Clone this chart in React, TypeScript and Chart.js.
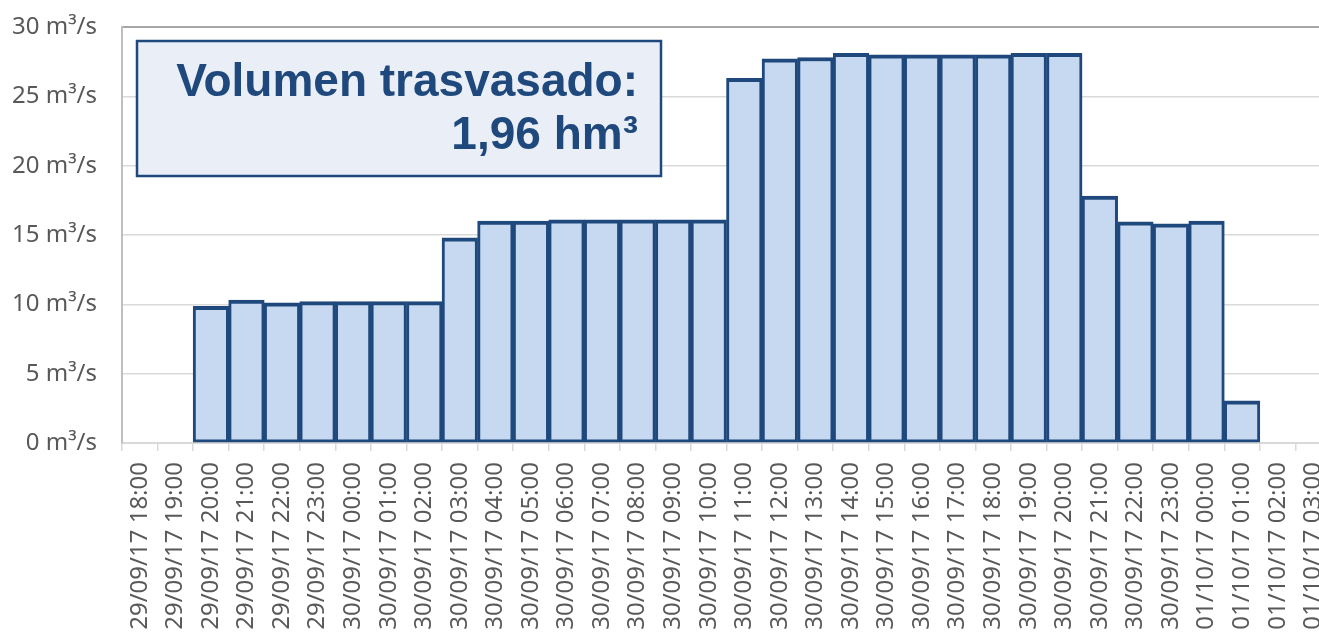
import React, { useEffect, useRef } from "react";
import { Chart, registerables } from "chart.js";

Chart.register(...registerables);

const categories: string[] = [
  "29/09/17 18:00", "29/09/17 19:00", "29/09/17 20:00", "29/09/17 21:00",
  "29/09/17 22:00", "29/09/17 23:00", "30/09/17 00:00", "30/09/17 01:00",
  "30/09/17 02:00", "30/09/17 03:00", "30/09/17 04:00", "30/09/17 05:00",
  "30/09/17 06:00", "30/09/17 07:00", "30/09/17 08:00", "30/09/17 09:00",
  "30/09/17 10:00", "30/09/17 11:00", "30/09/17 12:00", "30/09/17 13:00",
  "30/09/17 14:00", "30/09/17 15:00", "30/09/17 16:00", "30/09/17 17:00",
  "30/09/17 18:00", "30/09/17 19:00", "30/09/17 20:00", "30/09/17 21:00",
  "30/09/17 22:00", "30/09/17 23:00", "01/10/17 00:00", "01/10/17 01:00",
  "01/10/17 02:00", "01/10/17 03:00",
];

const flows: (number | null)[] = [
  null, null, 9.85, 10.3, 10.1, 10.2, 10.2, 10.2,
  10.2, 14.8, 16.0, 16.0, 16.1, 16.1, 16.1, 16.1,
  16.1, 26.3, 27.7, 27.8, 28.1, 28.0, 28.0, 28.0,
  28.0, 28.1, 28.1, 17.8, 15.95, 15.8, 16.0, 3.05,
  null, null,
];

const yMin = 0;
const yMax = 30;
const yStep = 5;
const unitSuffix = " m³/s";

const boxLine1 = "Volumen trasvasado:";
const boxLine2 = "1,96 hm³";

const DARK_BLUE = "#1F497D";
const BAR_FILL = "#C6D9F1";
const BOX_FILL = "#E9EEF7";
const TICK_GRAY = "#595959";

// the plotted figure runs a little past the visible frame on the right (cropped)
const FRAME_W = 1319;
const FRAME_H = 634;
const CANVAS_W = 1331;

const annotationBox = {
  id: "annotationBox",
  afterDraw(chart: any) {
    const { ctx, chartArea } = chart;
    const left = chartArea.left + 15;
    const top = chartArea.top + 14;
    const w = 524;
    const h = 135;
    ctx.save();
    ctx.fillStyle = BOX_FILL;
    ctx.fillRect(left, top, w, h);
    ctx.strokeStyle = DARK_BLUE;
    ctx.lineWidth = 2.5;
    ctx.strokeRect(left, top, w, h);
    ctx.fillStyle = DARK_BLUE;
    ctx.font = 'bold 46px "Liberation Sans", Arial, sans-serif';
    ctx.textAlign = "right";
    ctx.textBaseline = "alphabetic";
    ctx.fillText(boxLine1, left + w - 23, top + 55);
    ctx.fillText(boxLine2, left + w - 23, top + 108);
    ctx.restore();
  },
};

export default function App() {
  const canvasRef = useRef<HTMLCanvasElement | null>(null);

  useEffect(() => {
    if (!canvasRef.current) return;
    const chart = new Chart(canvasRef.current, {
      type: "bar",
      data: {
        labels: categories,
        datasets: [
          {
            data: flows,
            backgroundColor: BAR_FILL,
            borderColor: DARK_BLUE,
            borderWidth: { top: 4, left: 3, right: 3, bottom: 3 },
            barPercentage: 1,
            categoryPercentage: 1,
            borderSkipped: false,
          },
        ],
      },
      options: {
        responsive: false,
        animation: false,
        devicePixelRatio: 1,
        layout: { padding: { top: 27, right: 0, left: 0, bottom: 0 } },
        plugins: {
          legend: { display: false },
          tooltip: { enabled: false },
          title: { display: false },
        },
        scales: {
          x: {
            type: "category",
            offset: true,
            grid: {
              offset: true,
              drawOnChartArea: false,
              drawTicks: true,
              tickLength: 8,
              color: "#D9D9D9",
              lineWidth: 1.5,
            },
            border: { display: true, color: "#D9D9D9", width: 2 },
            ticks: {
              autoSkip: false,
              maxRotation: 90,
              minRotation: 90,
              padding: 11,
              color: TICK_GRAY,
              font: { family: '"Noto Sans", sans-serif', size: 24 },
            },
            afterFit(scale: any) {
              scale.height = 191;
              scale.paddingLeft = 0;
              scale.paddingRight = 0;
            },
          },
          y: {
            min: yMin,
            max: yMax,
            grid: {
              drawTicks: false,
              color: (c: any) => (c.tick && c.tick.value === yMax ? "#A6A6A6" : "#D9D9D9"),
              lineWidth: (c: any) => (c.tick && c.tick.value === yMax ? 2 : 1.5),
            },
            border: { display: true, color: "#BFBFBF", width: 2 },
            ticks: {
              stepSize: yStep,
              padding: 25,
              color: TICK_GRAY,
              font: { family: '"Noto Sans", sans-serif', size: 24 },
              callback: (v: any) => `${v}${unitSuffix}`,
            },
            afterFit(scale: any) {
              scale.width = 122;
              scale.paddingTop = 0;
              scale.paddingBottom = 0;
            },
          },
        },
      },
      plugins: [annotationBox],
    });
    return () => chart.destroy();
  }, []);

  return (
    <div
      style={{
        position: "fixed",
        left: 0,
        top: 0,
        width: FRAME_W,
        height: FRAME_H,
        overflow: "hidden",
        background: "#FFFFFF",
      }}
    >
      <canvas ref={canvasRef} width={CANVAS_W} height={FRAME_H} style={{ display: "block" }} />
    </div>
  );
}
